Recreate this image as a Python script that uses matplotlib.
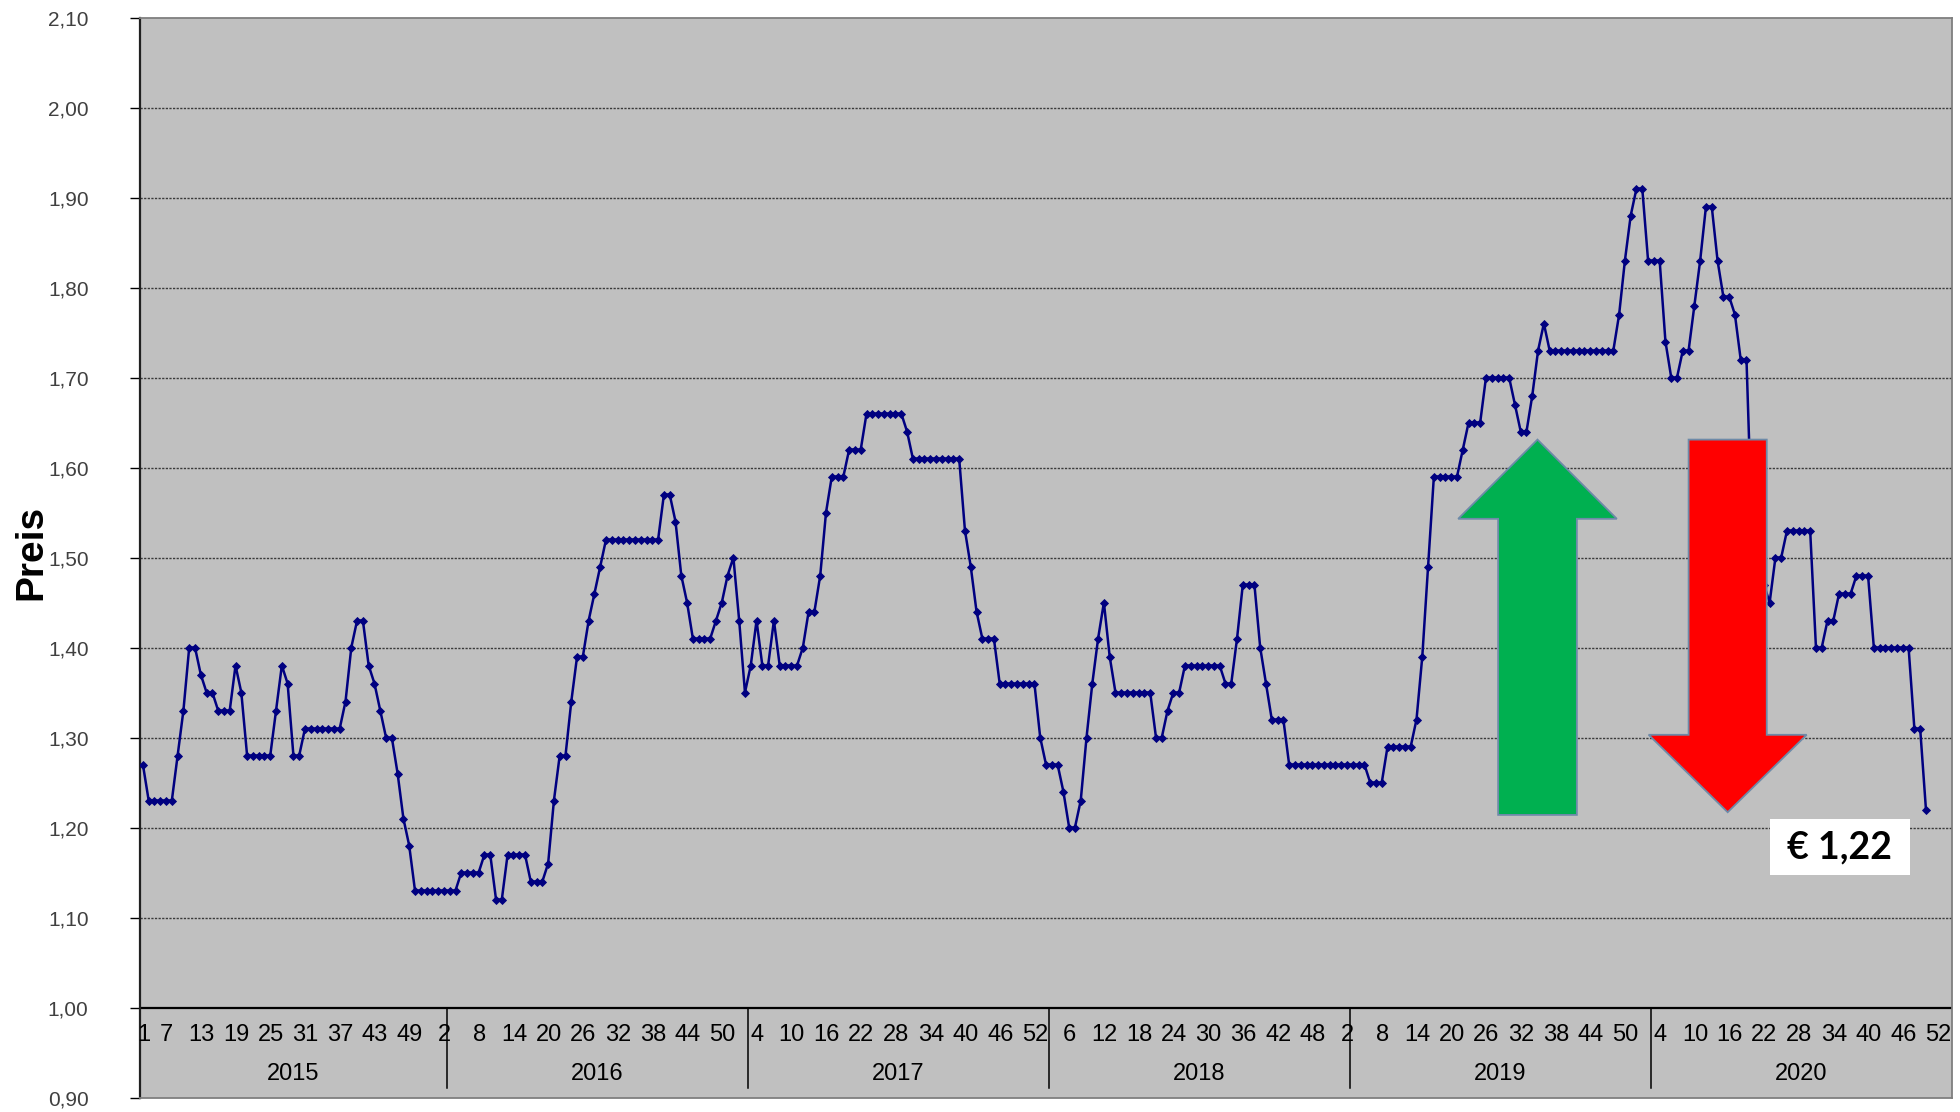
import matplotlib
matplotlib.use("Agg")
import matplotlib.pyplot as plt
from matplotlib import font_manager
from matplotlib.patches import Polygon, Rectangle
import numpy as np

# ---------------------------------------------------------------- data
years = [2015, 2016, 2017, 2018, 2019, 2020]
weeks_per_year = [53, 52, 52, 52, 52, 52]
label_step = 6

price_2015 = [1.27, 1.23, 1.23, 1.23, 1.23, 1.23, 1.28, 1.33, 1.40, 1.40,
              1.37, 1.35, 1.35, 1.33, 1.33, 1.33, 1.38, 1.35, 1.28, 1.28,
              1.28, 1.28, 1.28, 1.33, 1.38, 1.36, 1.28, 1.28, 1.31, 1.31,
              1.31, 1.31, 1.31, 1.31, 1.31, 1.34, 1.40, 1.43, 1.43, 1.38,
              1.36, 1.33, 1.30, 1.30, 1.26, 1.21, 1.18, 1.13, 1.13, 1.13,
              1.13, 1.13, 1.13]
price_2016 = [1.13, 1.13, 1.15, 1.15, 1.15, 1.15, 1.17, 1.17, 1.12, 1.12,
              1.17, 1.17, 1.17, 1.17, 1.14, 1.14, 1.14, 1.16, 1.23, 1.28,
              1.28, 1.34, 1.39, 1.39, 1.43, 1.46, 1.49, 1.52, 1.52, 1.52,
              1.52, 1.52, 1.52, 1.52, 1.52, 1.52, 1.52, 1.57, 1.57, 1.54,
              1.48, 1.45, 1.41, 1.41, 1.41, 1.41, 1.43, 1.45, 1.48, 1.50,
              1.43, 1.35]
price_2017 = [1.38, 1.43, 1.38, 1.38, 1.43, 1.38, 1.38, 1.38, 1.38, 1.40,
              1.44, 1.44, 1.48, 1.55, 1.59, 1.59, 1.59, 1.62, 1.62, 1.62,
              1.66, 1.66, 1.66, 1.66, 1.66, 1.66, 1.66, 1.64, 1.61, 1.61,
              1.61, 1.61, 1.61, 1.61, 1.61, 1.61, 1.61, 1.53, 1.49, 1.44,
              1.41, 1.41, 1.41, 1.36, 1.36, 1.36, 1.36, 1.36, 1.36, 1.36,
              1.30, 1.27]
price_2018 = [1.27, 1.27, 1.24, 1.20, 1.20, 1.23, 1.30, 1.36, 1.41, 1.45,
              1.39, 1.35, 1.35, 1.35, 1.35, 1.35, 1.35, 1.35, 1.30, 1.30,
              1.33, 1.35, 1.35, 1.38, 1.38, 1.38, 1.38, 1.38, 1.38, 1.38,
              1.36, 1.36, 1.41, 1.47, 1.47, 1.47, 1.40, 1.36, 1.32, 1.32,
              1.32, 1.27, 1.27, 1.27, 1.27, 1.27, 1.27, 1.27, 1.27, 1.27,
              1.27, 1.27]
price_2019 = [1.27, 1.27, 1.27, 1.25, 1.25, 1.25, 1.29, 1.29, 1.29, 1.29,
              1.29, 1.32, 1.39, 1.49, 1.59, 1.59, 1.59, 1.59, 1.59, 1.62,
              1.65, 1.65, 1.65, 1.70, 1.70, 1.70, 1.70, 1.70, 1.67, 1.64,
              1.64, 1.68, 1.73, 1.76, 1.73, 1.73, 1.73, 1.73, 1.73, 1.73,
              1.73, 1.73, 1.73, 1.73, 1.73, 1.73, 1.77, 1.83, 1.88, 1.91,
              1.91, 1.83]
price_2020 = [1.83, 1.83, 1.74, 1.70, 1.70, 1.73, 1.73, 1.78, 1.83, 1.89,
              1.89, 1.83, 1.79, 1.79, 1.77, 1.72, 1.72, 1.52, 1.50, 1.47,
              1.45, 1.50, 1.50, 1.53, 1.53, 1.53, 1.53, 1.53, 1.40, 1.40,
              1.43, 1.43, 1.46, 1.46, 1.46, 1.48, 1.48, 1.48, 1.40, 1.40,
              1.40, 1.40, 1.40, 1.40, 1.40, 1.31, 1.31, 1.22]

y_ticks = [0.90, 1.00, 1.10, 1.20, 1.30, 1.40, 1.50, 1.60, 1.70, 1.80, 1.90, 2.00, 2.10]
y_label = "Preis"

# ---------------------------------------------------------------- fonts
available = {f.name for f in font_manager.fontManager.ttflist}
narrow = "Liberation Sans Narrow" if "Liberation Sans Narrow" in available else "Liberation Sans"
plt.rcParams["font.family"] = ["Liberation Sans", "DejaVu Sans"]

# ---------------------------------------------------------------- figure
prices = price_2015 + price_2016 + price_2017 + price_2018 + price_2019 + price_2020
x = np.arange(len(prices))
n_cat = sum(weeks_per_year)

fig = plt.figure(figsize=(19.6, 11.12), dpi=100)
ax = fig.add_axes([140 / 1960, 1 - 1097.5 / 1112, (1952 - 140) / 1960, (1097.5 - 17.5) / 1112])
ax.set_facecolor("#C0C0C0")
ax.set_xlim(-0.5, n_cat - 0.5)
ax.set_ylim(y_ticks[0], y_ticks[-1])

# horizontal grid
for v in y_ticks[2:-1]:
    ax.axhline(v, color="#3a3a3a", lw=1.0, linestyle=(0, (1.6, 1.0)), zorder=1)
# category axis line
ax.axhline(1.00, color="black", lw=1.6, zorder=2)

# price line
ax.plot(x, prices, color="#000080", lw=1.8, marker="D", markersize=3.8,
        markeredgewidth=0.6, markeredgecolor="#000080", zorder=3)

# y axis
ax.set_yticks(y_ticks)
ax.set_yticklabels([f"{v:.2f}".replace(".", ",") for v in y_ticks],
                   fontsize=15, color="#404040")
ax.tick_params(axis="y", length=7, width=1.0, color="black", pad=30, direction="out")
ax.set_xticks([])

for side in ("top", "right", "bottom"):
    ax.spines[side].set_color("#7f7f7f")
    ax.spines[side].set_linewidth(1.3)
ax.spines["left"].set_color("#202020")
ax.spines["left"].set_linewidth(1.6)

# multi-level category labels (week numbers and years)
week_of = []
year_start = []
start = 0
for yr, nw in zip(years, weeks_per_year):
    year_start.append(start)
    week_of.extend(range(1, nw + 1))
    start += nw

for idx in range(0, n_cat, label_step):
    ax.text(max(idx - 1.9, 0.2), 0.969, str(week_of[idx]), ha="center", va="center",
            fontsize=17, family=[narrow, "DejaVu Sans"], color="black", zorder=4)

for yr, s, nw in zip(years, year_start, weeks_per_year):
    ax.text(s + nw / 2 - 0.5, 0.926, str(yr), ha="center", va="center",
            fontsize=17, family=[narrow, "DejaVu Sans"], color="black", zorder=4)
    if s > 0:
        ax.plot([s - 0.5, s - 0.5], [1.00, 0.911], color="black", lw=1.1, zorder=4)

fig.text(31 / 1960, 1 - 552 / 1112, y_label, rotation=90, ha="center", va="center",
         fontsize=28, fontweight="bold", family=[narrow, "DejaVu Sans"])


# ---------------------------------------------------------------- block arrows
def block_arrow(xc, y_tail, y_tip, shaft_half, head_half, head_len):
    d = 1 if y_tip > y_tail else -1
    yb = y_tip - d * head_len
    return [(xc - shaft_half, y_tail), (xc - shaft_half, yb), (xc - head_half, yb),
            (xc, y_tip), (xc + head_half, yb), (xc + shaft_half, yb),
            (xc + shaft_half, y_tail)]


ax.add_patch(Polygon(block_arrow(240.9, 1.214, 1.631, 6.8, 13.7, 0.088), closed=True,
                     facecolor="#00B050", edgecolor="#6d8aa8", lw=1.3, zorder=5))
ax.add_patch(Polygon(block_arrow(273.75, 1.631, 1.217, 6.75, 13.65, 0.086), closed=True,
                     facecolor="#FF0000", edgecolor="#6d8aa8", lw=1.3, zorder=5))

# current price box
last = prices[-1]
ax.add_patch(Rectangle((281.0, 1.147), 24.2, 0.062, facecolor="white", edgecolor="none", zorder=6))
ax.text(293.1, 1.178, "€ " + f"{last:.2f}".replace(".", ","), ha="center", va="center",
        fontsize=27, fontweight="bold", family=["Lato", "DejaVu Sans"], color="black", zorder=7)

fig.savefig("out.png", dpi=100, facecolor="white")
